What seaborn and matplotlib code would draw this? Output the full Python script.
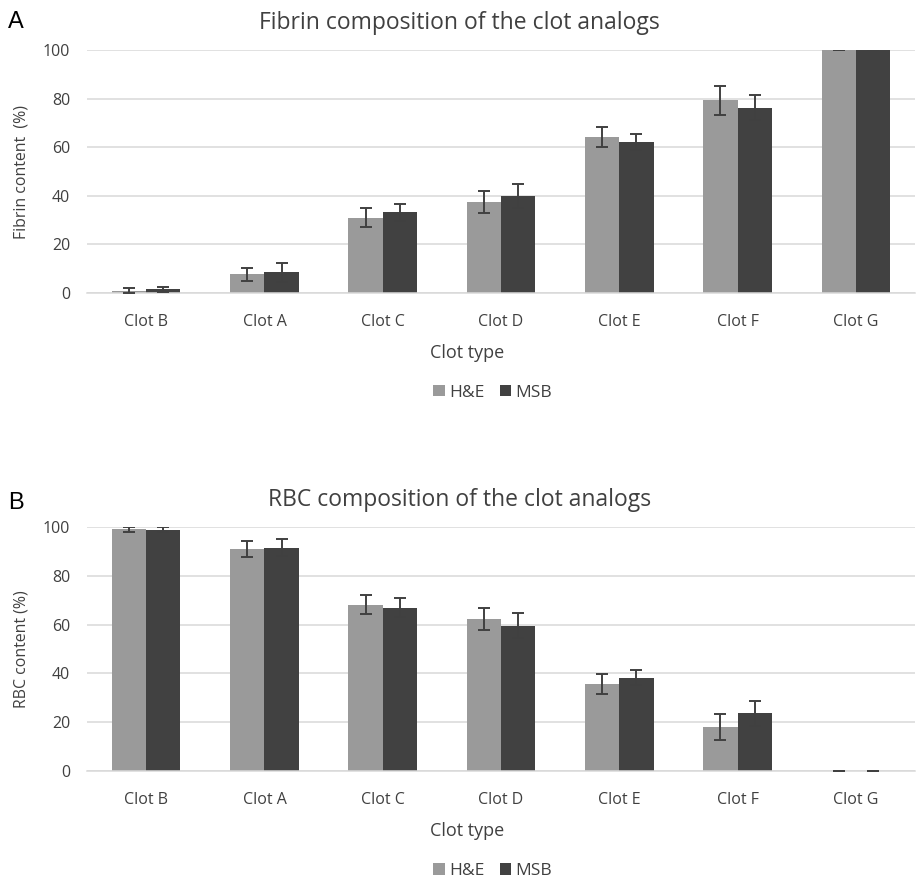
import numpy as np
import pandas as pd
import matplotlib
matplotlib.use("Agg")
import matplotlib.pyplot as plt
import seaborn as sns

# ---- Data ----
clots = ["Clot B", "Clot A", "Clot C", "Clot D", "Clot E", "Clot F", "Clot G"]
stains = ["H&E", "MSB"]

fibrin_he = [1.0, 7.7, 31.0, 37.5, 64.2, 79.3, 100.0]
fibrin_he_err = [1.0, 2.7, 4.0, 4.5, 4.0, 6.0, 0.0]
fibrin_msb = [1.5, 8.5, 33.2, 40.0, 62.0, 76.3, 100.0]
fibrin_msb_err = [1.0, 3.8, 3.6, 5.0, 3.3, 5.0, 0.0]

rbc_he = [99.0, 90.9, 68.2, 62.2, 35.6, 18.0, 0.0]
rbc_he_err = [1.0, 3.4, 4.0, 4.5, 4.0, 5.3, 0.0]
rbc_msb = [98.8, 91.4, 66.9, 59.6, 38.2, 23.6, 0.0]
rbc_msb_err = [1.0, 3.5, 3.8, 5.0, 3.1, 5.0, 0.0]

palette = {"H&E": "#9a9a9a", "MSB": "#414141"}
TXT = "#404040"

sns.set_theme(style="white")
plt.rcParams["font.family"] = ["Open Sans", "DejaVu Sans"]


def make_df(he, msb, he_err, msb_err):
    return pd.DataFrame({
        "clot": clots * 2,
        "stain": ["H&E"] * len(clots) + ["MSB"] * len(clots),
        "value": he + msb,
        "err": he_err + msb_err,
    })


def draw_panel(ax, df, title, ylabel):
    sns.barplot(data=df, x="clot", y="value", hue="stain", order=clots,
                hue_order=stains, palette=palette, width=0.58, gap=0,
                saturation=1, errorbar=None, linewidth=0, ax=ax, zorder=2)

    # ---- error bars at the centre of each drawn bar ----
    for container, stain in zip(ax.containers, stains):
        sub = df[df["stain"] == stain].set_index("clot").loc[clots]
        xs = [p.get_x() + p.get_width() / 2 for p in container.patches]
        ax.errorbar(xs, sub["value"], yerr=sub["err"], fmt="none",
                    ecolor="#404040", elinewidth=1.4, capsize=4,
                    capthick=1.4, zorder=3)

    ax.set_ylim(0, 100)
    ax.set_xlim(-0.5, len(clots) - 0.5)
    ax.set_yticks(range(0, 101, 20))
    ax.yaxis.grid(True, color="#d9d9d9", lw=1.1, zorder=0)
    ax.set_axisbelow(True)
    for s in ["top", "right", "left"]:
        ax.spines[s].set_visible(False)
    ax.spines["bottom"].set_color("#d9d9d9")
    ax.spines["bottom"].set_linewidth(1.1)
    ax.tick_params(axis="both", length=0, labelsize=11.5, colors=TXT)
    ax.tick_params(axis="y", pad=12)
    ax.tick_params(axis="x", pad=15)
    ax.set_title(title, fontsize=16.5, color=TXT, pad=15, x=0.45)
    ax.set_xlabel("Clot type", fontsize=13, color=TXT, labelpad=10)
    ax.xaxis.label.set_x(0.459)
    ax.set_ylabel(ylabel, fontsize=11.4, color=TXT, labelpad=10)

    handles, labels = ax.get_legend_handles_labels()
    ax.legend(handles, labels, loc="center", bbox_to_anchor=(0.49, -0.41),
              ncol=2, frameon=False, fontsize=12.5, labelcolor=TXT,
              handlelength=0.65, handleheight=0.65, handletextpad=0.25,
              columnspacing=0.9)


fig = plt.figure(figsize=(9.2, 8.81), dpi=100)
ax1 = fig.add_axes([0.0946, 0.6674, 0.9, 0.2758])
ax2 = fig.add_axes([0.0946, 0.1249, 0.9, 0.277])

draw_panel(ax1, make_df(fibrin_he, fibrin_msb, fibrin_he_err, fibrin_msb_err),
           "Fibrin composition of the clot analogs", "Fibrin content  (%)")
draw_panel(ax2, make_df(rbc_he, rbc_msb, rbc_he_err, rbc_msb_err),
           "RBC composition of the clot analogs", "RBC content (%)")

fig.text(0.009, 0.975, "A", fontsize=17, color="black", va="center",
         family="Liberation Sans")
fig.text(0.009, 0.429, "B", fontsize=17, color="black", va="center",
         family="Liberation Sans")

fig.savefig("out.png", dpi=100, facecolor="white")
plt.close(fig)
